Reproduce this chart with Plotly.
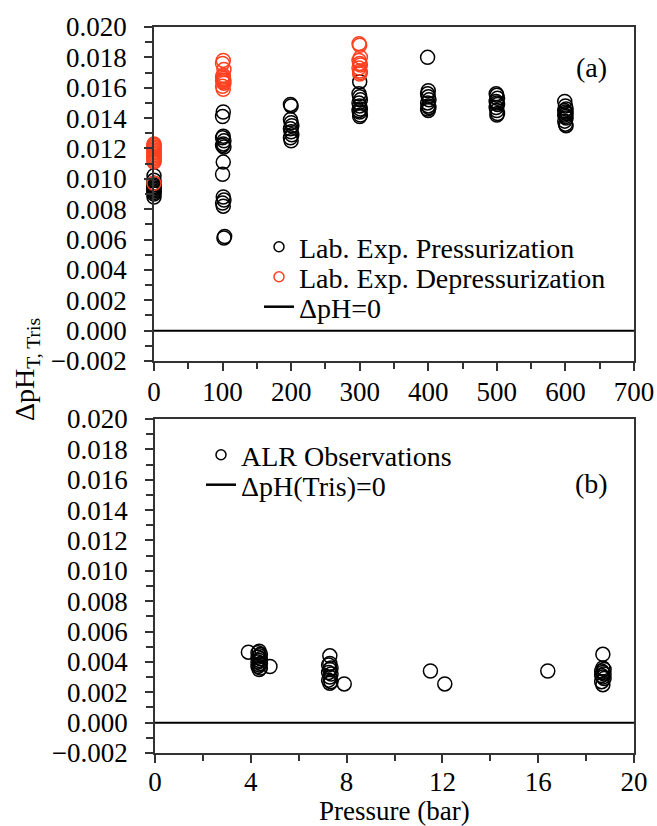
import plotly.graph_objects as go

# ---------------- data ----------------
# Panel (a): laboratory experiments, pressure in bar
press_x = [0, 0, 0, 0, 0, 0, 0, 0, 0, 0, 0,
           101, 100, 101, 100, 102, 101, 100, 102, 101, 100, 101, 102, 100, 101, 103, 102,
           199, 200, 199, 200, 201, 199, 200, 201, 199, 200,
           300, 299, 300, 301, 299, 300, 301, 299, 300, 301, 300,
           399, 400, 399, 400, 401, 399, 400, 401, 399, 400,
           499, 500, 501, 499, 500, 501, 499, 500, 501, 500,
           599, 600, 601, 599, 600, 601, 599, 600, 601, 599, 600, 601]
press_y = [0.0102, 0.0099, 0.0097, 0.0096, 0.0095, 0.0094, 0.0093, 0.0092, 0.0091, 0.0090, 0.0088,
           0.0144, 0.0141, 0.0128, 0.0127, 0.0125, 0.0123, 0.0122, 0.0121, 0.0111, 0.0103, 0.0088, 0.0086, 0.0084, 0.0082, 0.0062, 0.0061,
           0.0149, 0.0148, 0.0139, 0.0137, 0.0135, 0.0133, 0.0131, 0.0129, 0.0127, 0.0125,
           0.0164, 0.0156, 0.0154, 0.0152, 0.0150, 0.0148, 0.0146, 0.0145, 0.0144, 0.0142, 0.0141,
           0.0180, 0.0158, 0.0156, 0.0154, 0.0152, 0.0150, 0.0148, 0.0147, 0.0146, 0.0145,
           0.0156, 0.0155, 0.0153, 0.0151, 0.0150, 0.0149, 0.0147, 0.0145, 0.0143, 0.0142,
           0.0151, 0.0148, 0.0146, 0.0145, 0.0144, 0.0143, 0.0142, 0.0141, 0.0140, 0.0138, 0.0136, 0.0135]

depress_x = [0, 0, 0, 0, 0, 0, 0, 0, 0, 0, 0, 0, 0, 0,
             101, 100, 102, 101, 100, 101, 102, 100, 101, 102, 100, 101,
             299, 300, 301, 299, 300, 301, 299, 300, 301, 300]
depress_y = [0.0123, 0.0122, 0.0121, 0.0120, 0.0119, 0.0118, 0.0117, 0.0116, 0.0115, 0.0114, 0.0113, 0.0112, 0.0111, 0.0097,
             0.0178, 0.0176, 0.0172, 0.0168, 0.0167, 0.0166, 0.0165, 0.0165, 0.0164, 0.0163, 0.0161, 0.0159,
             0.0189, 0.0188, 0.0180, 0.0178, 0.0176, 0.0175, 0.0173, 0.0171, 0.0170, 0.0169]

# Panel (b): ALR observations
alr_x = [3.9,
         4.35, 4.3, 4.4, 4.35, 4.3, 4.4, 4.35, 4.3, 4.4, 4.35, 4.3, 4.4, 4.35,
         4.8,
         7.3, 7.3, 7.25, 7.35, 7.3, 7.25, 7.35, 7.3, 7.25, 7.35, 7.3,
         7.9, 11.5, 12.1, 16.4,
         18.7, 18.7, 18.75, 18.65, 18.7, 18.75, 18.65, 18.7, 18.75, 18.65, 18.7]
alr_y = [0.00464,
         0.0047, 0.0046, 0.0045, 0.0044, 0.0043, 0.0042, 0.0041, 0.0040, 0.0039, 0.0038, 0.0037, 0.0036, 0.0035,
         0.0037,
         0.0044, 0.0039, 0.0038, 0.0036, 0.0035, 0.0033, 0.0032, 0.0030, 0.0028, 0.0027, 0.0026,
         0.00255, 0.0034, 0.00255, 0.0034,
         0.0045, 0.0036, 0.0035, 0.0034, 0.0033, 0.0032, 0.0031, 0.0030, 0.0029, 0.0027, 0.0025]

zero_a_x = [0, 700]
zero_b_x = [0, 20]
zero_y = [0, 0]

x_ticks_a = [0, 100, 200, 300, 400, 500, 600, 700]
x_ticks_b = [0, 4, 8, 12, 16, 20]
y_ticks = [-0.002, 0.000, 0.002, 0.004, 0.006, 0.008, 0.010, 0.012, 0.014, 0.016, 0.018, 0.020]

# ---------------- styling ----------------
FONT = "Liberation Serif, Times New Roman, serif"
RED = "#FF4020"
AX = "#333333"

fig = go.Figure()

def mk(color, size=14):
    return dict(symbol="circle-open", size=size, color=color, line=dict(width=1.5, color=color))

# data traces
fig.add_trace(go.Scatter(x=press_x, y=press_y, mode="markers", marker=mk("black"),
                         showlegend=False, cliponaxis=False, xaxis="x", yaxis="y"))
fig.add_trace(go.Scatter(x=depress_x, y=depress_y, mode="markers", marker=mk(RED),
                         showlegend=False, cliponaxis=False, xaxis="x", yaxis="y"))
fig.add_trace(go.Scatter(x=zero_a_x, y=zero_y, mode="lines", line=dict(color="black", width=2),
                         showlegend=False, cliponaxis=False, xaxis="x", yaxis="y"))
fig.add_trace(go.Scatter(x=alr_x, y=alr_y, mode="markers", marker=mk("black"),
                         showlegend=False, cliponaxis=False, xaxis="x2", yaxis="y2"))
fig.add_trace(go.Scatter(x=zero_b_x, y=zero_y, mode="lines", line=dict(color="black", width=2),
                         showlegend=False, cliponaxis=False, xaxis="x2", yaxis="y2"))

# legend entries (one legend per row for exact spacing)
fig.add_trace(go.Scatter(x=[None], y=[None], mode="markers", marker=mk("black", 10),
                         name="Lab. Exp. Pressurization", legend="legend", xaxis="x", yaxis="y"))
fig.add_trace(go.Scatter(x=[None], y=[None], mode="markers", marker=mk(RED, 10),
                         name="Lab. Exp. Depressurization", legend="legend2", xaxis="x", yaxis="y"))
fig.add_trace(go.Scatter(x=[None], y=[None], mode="lines", line=dict(color="black", width=2.5),
                         name="ΔpH=0", legend="legend3", xaxis="x", yaxis="y"))
fig.add_trace(go.Scatter(x=[None], y=[None], mode="markers", marker=mk("black", 10),
                         name="ALR Observations", legend="legend4", xaxis="x2", yaxis="y2"))
fig.add_trace(go.Scatter(x=[None], y=[None], mode="lines", line=dict(color="black", width=2.5),
                         name="ΔpH(Tris)=0", legend="legend5", xaxis="x2", yaxis="y2"))

L, R, T, B = 154, 23, 27, 73
W, H = 657, 826
ph = H - T - B

def py(px):
    return (H - B - px) / ph

def pxx(px):
    return (px - L) / (W - L - R)

leg_common = dict(font=dict(family=FONT, size=28, color="black"), bgcolor="rgba(0,0,0,0)",
                  borderwidth=0, xanchor="left", yanchor="middle", itemwidth=30,
                  xref="paper", yref="paper")

axis_common = dict(showline=True, linecolor=AX, linewidth=1.5, mirror=True, ticks="outside",
                   ticklen=8, tickwidth=1.5, tickcolor=AX, showgrid=False, zeroline=False,
                   automargin=False,
                   tickfont=dict(family=FONT, size=27, color="black"))

ann_font = dict(family=FONT, size=28, color="black")

fig.update_layout(
    template="none",
    width=W, height=H, margin=dict(l=L, r=R, t=T, b=B, autoexpand=False),
    paper_bgcolor="white", plot_bgcolor="white",
    font=dict(family=FONT, size=27, color="black"),
    xaxis=dict(domain=[0, 1], anchor="y", range=[0, 700], tickvals=x_ticks_a,
               minor=dict(dtick=50, ticks="outside", ticklen=6, tickwidth=1.5, tickcolor=AX),
               ticklabelstandoff=-2, **axis_common),
    yaxis=dict(domain=[py(361), 1], anchor="x", range=[-0.002, 0.020], tickvals=y_ticks,
               tickformat=".3f",
               minor=dict(dtick=0.001, ticks="outside", ticklen=7, tickwidth=1.5, tickcolor=AX),
               ticklabelstandoff=12, **axis_common),
    xaxis2=dict(domain=[pxx(155), 1], anchor="y2", range=[0, 20], tickvals=x_ticks_b,
                minor=dict(dtick=2, ticks="outside", ticklen=6, tickwidth=1.5, tickcolor=AX),
                ticklabelstandoff=-4, **axis_common),
    yaxis2=dict(domain=[0, py(419)], anchor="x2", range=[-0.002, 0.020], tickvals=y_ticks,
                tickformat=".3f",
                minor=dict(dtick=0.001, ticks="outside", ticklen=7, tickwidth=1.5, tickcolor=AX),
                ticklabelstandoff=12, **axis_common),
    legend=dict(x=pxx(259), y=py(247), **leg_common),
    legend2=dict(x=pxx(259), y=py(277), **leg_common),
    legend3=dict(x=pxx(259), y=py(307), **leg_common),
    legend4=dict(x=pxx(201), y=py(455), **leg_common),
    legend5=dict(x=pxx(201), y=py(485), **leg_common),
    annotations=[
        dict(text="(a)", x=pxx(591), y=py(67), xref="paper", yref="paper", showarrow=False,
             xanchor="center", yanchor="middle", font=ann_font),
        dict(text="(b)", x=pxx(591), y=py(483), xref="paper", yref="paper", showarrow=False,
             xanchor="center", yanchor="middle", font=ann_font),
        dict(text="ΔpH<sub>T, Tris</sub>", x=pxx(26), y=py(370), xref="paper", yref="paper",
             showarrow=False, textangle=-90, xanchor="center", yanchor="middle", font=ann_font),
        dict(text="Pressure (bar)", x=pxx(394), y=py(811), xref="paper", yref="paper",
             showarrow=False, xanchor="center", yanchor="middle",
             font=dict(family=FONT, size=27, color="black")),
    ],
)

fig.write_html("out.html")
